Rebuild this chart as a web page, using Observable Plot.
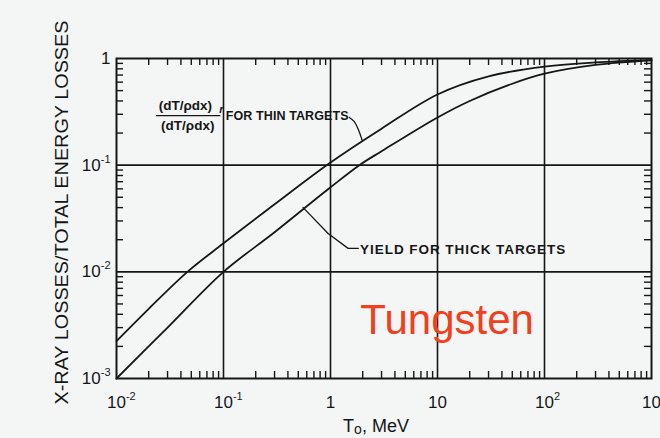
<!DOCTYPE html>
<html><head><meta charset="utf-8">
<script src="https://cdn.jsdelivr.net/npm/d3@7"></script>
<script src="https://cdn.jsdelivr.net/npm/@observablehq/plot@0.6"></script>
<style>
html,body{margin:0;padding:0;background:#f4f6f6;}
#chart{width:660px;height:438px;overflow:hidden;}
</style></head><body><div id="chart"></div>
<script>
// ---- data ----
const xTicks = [0.01, 0.1, 1, 10, 100, 1000];
const xTickLabels = ["10^-2", "10^-1", "1", "10", "10^2", "10^3"];
const yTicks = [0.001, 0.01, 0.1, 1];
const yTickLabels = ["10^-3", "10^-2", "10^-1", "1"];

// (dT/pdx)r/(dT/pdx) for thin targets
const thinT    = [0.01, 0.02, 0.046, 0.1, 0.3, 1, 3, 10, 30, 100, 300, 1000];
const thinLoss = [0.00224, 0.0045, 0.01, 0.0185, 0.043, 0.106, 0.22, 0.46, 0.68, 0.84, 0.92, 0.965];
// yield for thick targets
const thickT    = [0.01, 0.03, 0.1, 0.3, 1, 1.86, 3, 10, 20, 50, 100, 300, 1000];
const thickLoss = [0.001, 0.003, 0.01, 0.0235, 0.062, 0.1, 0.135, 0.28, 0.40, 0.58, 0.72, 0.87, 0.96];

// annotation leader lines (data coordinates)
const thinLeaderT = [1.5, 1.66, 1.82, 1.98];
const thinLeaderV = [0.28, 0.257, 0.216, 0.17];
const thickLeaderT = [0.553, 0.95, 1.46, 1.82];
const thickLeaderV = [0.0402, 0.0229, 0.0166, 0.0166];

const yLabel = "X-RAY LOSSES/TOTAL ENERGY LOSSES";
const xLabel = "To, MeV";
const thinLabel = "FOR THIN TARGETS";
const thickLabel = "YIELD FOR THICK TARGETS";
const fracText = "(dT/ρdx)";
const material = "Tungsten";

// ---- layout ----
const W = 660, H = 438, mL = 116, mR = 9, mT = 58, mB = 60;
const plotH = H - mT - mB, plotW = W - mL - mR;
const minorLen = 7;
const ink = "#161616";
const FONT = "'Liberation Sans', Arial, Helvetica, sans-serif";

const minorX = [];
xTicks.slice(0, -1).forEach(d => { for (let m = 2; m <= 9; m++) minorX.push(d * m); });
const minorY = [];
yTicks.slice(0, -1).forEach(d => { for (let m = 2; m <= 9; m++) minorY.push(d * m); });

const thin = thinT.map((t, i) => ({t, v: thinLoss[i]}));
const thick = thickT.map((t, i) => ({t, v: thickLoss[i]}));
const thinLeader = thinLeaderT.map((t, i) => ({t, v: thinLeaderV[i]}));
const thickLeader = thickLeaderT.map((t, i) => ({t, v: thickLeaderV[i]}));

const chart = Plot.plot({
  width: W, height: H,
  marginLeft: mL, marginRight: mR, marginTop: mT, marginBottom: mB,
  style: {background: "transparent", fontFamily: FONT, color: ink, overflow: "visible"},
  x: {type: "log", domain: [0.01, 1000]},
  y: {type: "log", domain: [0.001, 1]},
  marks: [
    Plot.ruleX(xTicks.slice(1, -1), {stroke: ink, strokeWidth: 1.6}),
    Plot.ruleY(yTicks.slice(1, -1), {stroke: ink, strokeWidth: 1.6}),
    Plot.tickX(minorX, {x: d => d, insetTop: plotH - minorLen, stroke: ink, strokeWidth: 1.4}),
    Plot.tickX(minorX, {x: d => d, insetBottom: plotH - minorLen, stroke: ink, strokeWidth: 1.4}),
    Plot.tickY(minorY, {y: d => d, insetRight: plotW - minorLen, stroke: ink, strokeWidth: 1.4}),
    Plot.tickY(minorY, {y: d => d, insetLeft: plotW - minorLen, stroke: ink, strokeWidth: 1.4}),
    Plot.frame({stroke: ink, strokeWidth: 2}),
    Plot.line(thin, {x: "t", y: "v", curve: "catmull-rom", stroke: ink, strokeWidth: 1.8}),
    Plot.line(thick, {x: "t", y: "v", curve: "catmull-rom", stroke: ink, strokeWidth: 1.8}),
    Plot.line(thinLeader, {x: "t", y: "v", curve: "catmull-rom", stroke: ink, strokeWidth: 1.3}),
    Plot.line(thickLeader, {x: "t", y: "v", stroke: ink, strokeWidth: 1.3}),
    // fraction label
    Plot.text([fracText], {x: 0.044, y: 0.365, fontSize: 13.5, fill: ink, fontWeight: 600}),
    Plot.text(["r"], {x: 0.0955, y: 0.33, fontSize: 10.5, fill: ink, fontStyle: "italic", fontWeight: 600}),
    Plot.ruleY([0.292], {x1: 0.0237, x2: 0.0944, stroke: ink, strokeWidth: 1.2}),
    Plot.text([fracText], {x: 0.0463, y: 0.236, fontSize: 13.5, fill: ink, fontWeight: 600}),
    Plot.text([thinLabel], {x: 0.105, y: 0.286, textAnchor: "start", fontSize: 12.5, fill: ink, fontWeight: 600}),
    Plot.text([thickLabel], {x: 1.89, y: 0.0162, textAnchor: "start", fontSize: 13.5, fill: ink, fontWeight: 600}),
    Plot.text([material], {x: 12.3, y: 0.0035, fontSize: 42, fill: "#f04020"}),
    // axes
    Plot.axisX({ticks: xTicks, tickSize: 0, tickPadding: 17, fontSize: 17, label: null,
      tickFormat: d => xTickLabels[xTicks.indexOf(d)]}),
    Plot.axisY({ticks: yTicks, tickSize: 0, tickPadding: 6, fontSize: 17, label: null,
      tickFormat: d => yTickLabels[yTicks.indexOf(d)]}),
    Plot.text([yLabel], {frameAnchor: "left", textAnchor: "middle", rotate: -90, dx: -54, dy: -6, fontSize: 18, fill: ink}),
    Plot.text([xLabel], {frameAnchor: "bottom", textAnchor: "middle", dy: 53, dx: -8, fontSize: 18, fill: ink})
  ]
});
document.getElementById("chart").appendChild(chart);

// superscripts on tick labels
function supify(sel, center) {
  chart.querySelectorAll(sel).forEach(t => {
    const s = t.textContent;
    const m = s.match(/^10\^(.+)$/);
    if (!m) return;
    t.textContent = "";
    const a = document.createElementNS("http://www.w3.org/2000/svg", "tspan");
    a.textContent = "10";
    const b = document.createElementNS("http://www.w3.org/2000/svg", "tspan");
    b.textContent = m[1];
    b.setAttribute("font-size", "11");
    b.setAttribute("dy", "-8");
    t.appendChild(a); t.appendChild(b);
    if (center) {
      t.setAttribute("text-anchor", "start");
      const w = t.getSubStringLength(0, 2);
      a.setAttribute("dx", (-w / 2).toFixed(1));
    }
  });
}
supify('g[aria-label="x-axis tick label"] text', true);
supify('g[aria-label="y-axis tick label"] text', false);

chart.querySelectorAll('g[aria-label="text"] text').forEach(t => {
  // condensed axis title, as in the reference lettering
  if (t.textContent === yLabel) {
    t.setAttribute("textLength", "384");
    t.setAttribute("lengthAdjust", "spacingAndGlyphs");
  }
  if (t.textContent === thickLabel) t.style.letterSpacing = "0.95px";
  if (t.textContent === thinLabel) t.style.letterSpacing = "0.1px";
  // subscript o in "To"
  if (t.textContent === xLabel) {
    t.textContent = "";
    const parts = [["T", null], ["o", "sub"], [", MeV", "back"]];
    for (const [txt, kind] of parts) {
      const sp = document.createElementNS("http://www.w3.org/2000/svg", "tspan");
      sp.textContent = txt;
      if (kind === "sub") { sp.setAttribute("font-size", "14"); sp.setAttribute("dy", "2"); }
      if (kind === "back") { sp.setAttribute("dy", "-2"); }
      t.appendChild(sp);
    }
  }
});
</script>
</body></html>
